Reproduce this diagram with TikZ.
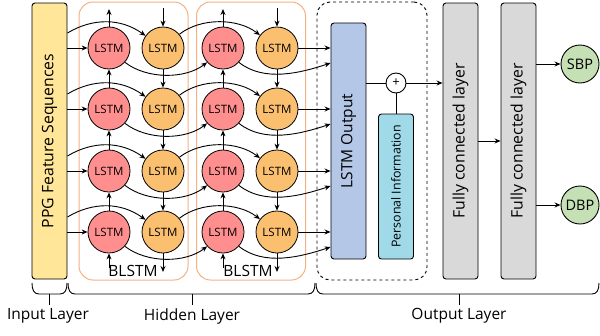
\documentclass[tikz,border=0pt]{standalone}
\usepackage{fontspec}
\setmainfont{Open Sans}
\usetikzlibrary{arrows.meta,calc}

\definecolor{ppgfill}{HTML}{FFE699}
\definecolor{fwdfill}{HTML}{FF8F8F}
\definecolor{bwdfill}{HTML}{FAC070}
\definecolor{framecol}{HTML}{F4B183}
\definecolor{outfill}{HTML}{B4C7E7}
\definecolor{infofill}{HTML}{A0DAE8}
\definecolor{fcfill}{HTML}{D9D9D9}
\definecolor{bpfill}{HTML}{C5E0B4}

\tikzset{
  cell/.style={circle, draw, line width=0.8pt, minimum size=42pt, inner sep=0pt,
               font=\fontsize{11.5}{14}\selectfont},
  fwdcell/.style={cell, fill=fwdfill},
  bwdcell/.style={cell, fill=bwdfill},
  tallbox/.style={draw, line width=0.9pt, rounded corners=3pt, inner sep=0pt,
                  minimum width=35pt, text width=0pt},
  blstmframe/.style={draw=framecol, line width=1pt, rounded corners=14pt,
                     minimum width=109pt, minimum height=278pt, inner sep=0pt},
  arr/.style={-{Stealth[length=6pt,width=5pt]}, line width=0.9pt},
  plainline/.style={line width=0.9pt},
  bracket/.style={line width=0.9pt},
  biglabel/.style={font=\fontsize{15.5}{18}\selectfont},
  vlabel/.style={rotate=90, font=\fontsize{15.8}{18}\selectfont},
  bpcircle/.style={circle, draw, line width=0.9pt, fill=bpfill, minimum size=38pt,
                   inner sep=0pt, font=\fontsize{14.5}{17}\selectfont},
}

\begin{document}
\begin{tikzpicture}[x=1pt,y=-1pt]
\useasboundingbox (0,0) rectangle (600,335);

% frames of the two BLSTM blocks and of the output stage
\node[blstmframe] (frameA) at (133.5,141) {};
\node[blstmframe] (frameB) at (251,141) {};
\node[draw, dashed, line width=0.9pt, rounded corners=13pt, minimum width=110pt,
      minimum height=278pt, inner sep=0pt] (outframe) at (372,141) {};

% input sequence
\node[tallbox, fill=ppgfill, minimum height=276pt] (ppg) at (49.5,141) {};
\node[vlabel] (ppgtext) at (ppg) {PPG Feature Sequences};

% output stage boxes
\node[tallbox, fill=outfill, minimum height=236pt] (lstm) at (348.5,141) {};
\node[vlabel, font=\fontsize{15.5}{18}\selectfont] (lstmtext) at (lstm) {LSTM Output};
\node[tallbox, fill=infofill, minimum height=145pt] (pinfo) at (396,186.5) {};
\node[vlabel, font=\fontsize{12.4}{15}\selectfont] (pinfotext) at (pinfo) {Personal Information};
\node[circle, draw, line width=0.9pt, fill=white, minimum size=20pt, inner sep=0pt,
      font=\fontsize{13}{15}\selectfont] (plus) at (396,83) {+};

\node[tallbox, fill=fcfill, minimum height=276pt] (fc1) at (460.5,141) {};
\node[vlabel] (fc1text) at (fc1) {Fully connected layer};
\node[tallbox, fill=fcfill, minimum height=276pt] (fc2) at (518.5,141) {};
\node[vlabel] (fc2text) at (fc2) {Fully connected layer};

\node[bpcircle] (sbp) at (580,64) {SBP};
\node[bpcircle] (dbp) at (580,205) {DBP};

% LSTM cells: forward (red) and backward (orange) in two blocks
\foreach \i/\y in {1/48,2/109,3/171,4/232}{
  \node[fwdcell] (fa\i) at (109,\y) {LSTM};
  \node[bwdcell] (ba\i) at (163,\y) {LSTM};
  \node[fwdcell] (fb\i) at (223,\y) {LSTM};
  \node[bwdcell] (bb\i) at (277,\y) {LSTM};
}

% block labels
\node[biglabel] (blA) at (133,271) {BLSTM};
\node[biglabel] (blB) at (248,271) {BLSTM};

% ends of the vertical chains
\coordinate (faTop) at (109,9);
\coordinate (faBot) at (109,268);
\coordinate (baTop) at (163,8);
\coordinate (baBot) at (163,272);
\coordinate (fbTop) at (223,9);
\coordinate (fbBot) at (223,268);
\coordinate (bbTop) at (277,8);
\coordinate (bbBot) at (277,272);

% forward chains run upwards, backward chains downwards
\foreach \c in {a,b}{
  \draw[arr] (f\c1.north) -- (f\c Top);
  \draw[arr] (f\c Bot) -- (f\c4.south);
  \draw[arr] (b\c Top) -- (b\c1.north);
  \draw[arr] (b\c4.south) -- (b\c Bot);
  \foreach \j/\k in {1/2,2/3,3/4}{
    \draw[arr] (f\c\k.north) -- (f\c\j.south);
    \draw[arr] (b\c\j.south) -- (b\c\k.north);
  }
}

% connections inside each row
\foreach \i in {1,2,3,4}{
  \draw[arr] (ppg.east |- fa\i) -- (fa\i);
  \draw[arr] ($(ppg.east |- fa\i)+(0,-15)$) .. controls +(25,-15) and +(-25,-18) .. (ba\i.145);
  \draw[arr] (fa\i.-42) .. controls +(22,17) and +(-22,17) .. (fb\i.-138);
  \draw[arr] (ba\i.40) .. controls +(22,-17) and +(-22,-17) .. (bb\i.143);
  \draw[arr] (bb\i) -- (bb\i -| lstm.west);
  \draw[arr] (fb\i.-42) .. controls +(25,20) and +(-30,10) .. ($(lstm.west |- fb\i)+(0,15)$);
}

% merge with personal information and dense layers
\draw[plainline] (lstm.east |- plus) -- (plus);
\draw[plainline] (pinfo.north) -- (plus.south);
\draw[arr] (plus) -- (plus -| fc1.west);
\draw[arr] (fc1) -- (fc2);
\draw[arr] (fc2.east |- sbp) -- (sbp);
\draw[arr] (fc2.east |- dbp) -- (dbp);

% layer brackets
\coordinate (inL) at (32,283);  \coordinate (inR) at (67,283);
\coordinate (hiL) at (68,283);  \coordinate (hiR) at (315,283);
\coordinate (ouL) at (316,283); \coordinate (ouR) at (599,283);
\foreach \l/\r/\m in {in/in/49, hi/hi/192, ou/ou/459}{
  \draw[bracket] (\l L) .. controls +(0,7) and +(-5,0) .. ($(\l L)+(7,11)$)
    -- ($(\r R)+(-7,11)$) .. controls +(5,0) and +(0,7) .. (\r R);
  \draw[bracket] (\m,294) -- (\m,305);
}
\node[biglabel] (inlabel) at (48,316) {Input Layer};
\node[biglabel] (hilabel) at (192,316) {Hidden Layer};
\node[biglabel] (oulabel) at (459,316) {Output Layer};
\end{tikzpicture}
\end{document}
